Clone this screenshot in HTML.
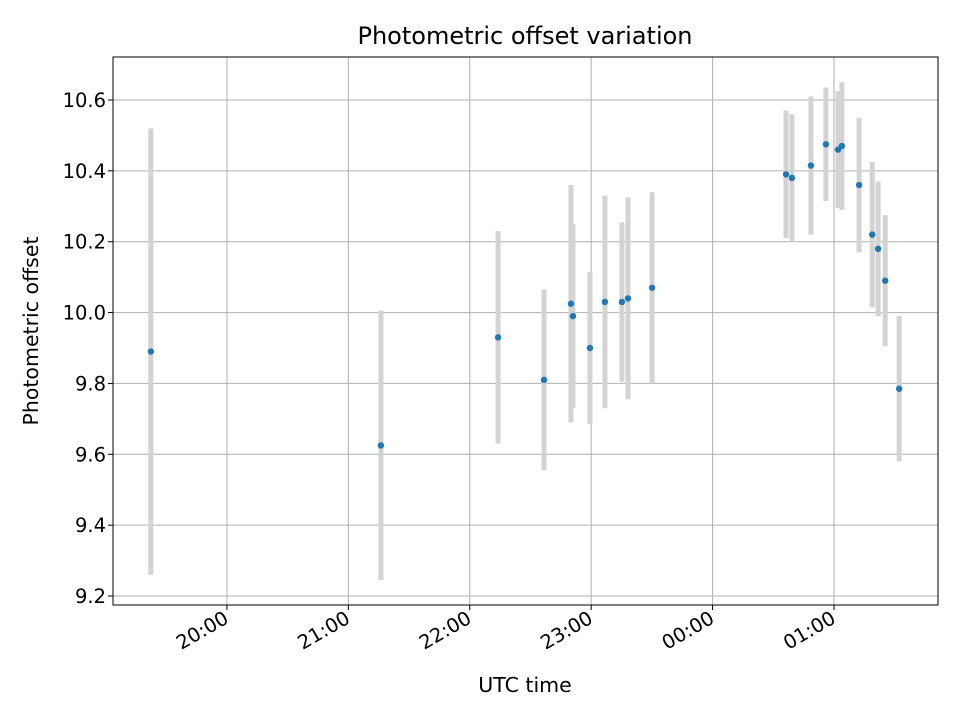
<!DOCTYPE html>
<html><head><meta charset="utf-8"><style>
html,body{margin:0;padding:0;background:#fff;}
svg text{font-family:"DejaVu Sans","Liberation Sans",sans-serif;fill:#000;}
</style></head><body>
<svg id="chart" width="960" height="720" xmlns="http://www.w3.org/2000/svg">
<rect width="960" height="720" fill="#fff"/>
<g id="grid"></g>
<g id="errs"></g>
<g id="pts"></g>
<rect x="113" y="57" width="825" height="548" fill="none" stroke="#000" stroke-width="1"/>
<g id="axes"></g>
<text x="525" y="44" text-anchor="middle" style="font-size:24px">Photometric offset variation</text>
<text x="525" y="692" text-anchor="middle" style="font-size:20.5px">UTC time</text>
<text transform="translate(38,331) rotate(-90)" text-anchor="middle" style="font-size:20.5px">Photometric offset</text>
</svg>
<script>
// minutes since 20:00 UTC
const times = [-37.6,76.1,134,156.7,170,171,179.4,186.8,195.2,198.2,210.1,276.3,279.2,288.6,296,302,303.9,312.4,318.9,321.8,325.3,332.2];
const offsets = [9.89,9.625,9.93,9.81,10.025,9.99,9.90,10.03,10.03,10.04,10.07,10.39,10.38,10.415,10.475,10.46,10.47,10.36,10.22,10.18,10.09,9.785];
const errors = [0.63,0.38,0.30,0.255,0.335,0.26,0.215,0.30,0.225,0.285,0.27,0.18,0.18,0.195,0.16,0.165,0.18,0.19,0.205,0.19,0.185,0.205];
const xTickMinutes = [0,60,120,180,240,300];
const xTickLabels = ["20:00","21:00","22:00","23:00","00:00","01:00"];
const yTicks = [9.2,9.4,9.6,9.8,10.0,10.2,10.4,10.6];

const NS="http://www.w3.org/2000/svg";
const L=113,R=938,T=57,B=605;
const xMin=-56.3,xMax=351.4;
const x=m=>L+(m-xMin)/(xMax-xMin)*(R-L);
const y=v=>596-(v-9.2)/1.4*496;
function mk(tag,attrs,parent){const e=document.createElementNS(NS,tag);for(const k in attrs)e.setAttribute(k,attrs[k]);parent.appendChild(e);return e;}
const grid=document.getElementById('grid'),axes=document.getElementById('axes');
xTickMinutes.forEach((m,i)=>{
  const px=x(m);
  const g=mk('line',{x1:px,x2:px,y1:T,y2:B,stroke:'#b0b0b0','stroke-width':1},grid);
  
  
  const t=mk('line',{x1:px,x2:px,y1:B,y2:B+5,stroke:'#000'},axes);
  
  
  const lb=mk('text',{transform:`translate(${px+3},${B+17}) rotate(-30)`,'text-anchor':'end',style:'font-size:19.5px'},axes);
  lb.textContent=xTickLabels[i];
  
  
});
yTicks.forEach(v=>{
  const py=y(v);
  const g=mk('line',{x1:L,x2:R,y1:py,y2:py,stroke:'#b0b0b0','stroke-width':1},grid);
  
  
  const t=mk('line',{x1:L-5,x2:L,y1:py,y2:py,stroke:'#000'},axes);
  
  
  const lb=mk('text',{x:L-7,y:py+7,'text-anchor':'end',style:'font-size:19.5px'},axes);
  lb.textContent=v.toFixed(1);
  
  
});
const errs=document.getElementById('errs'),pts=document.getElementById('pts');
times.forEach((m,i)=>{
  const px=x(m);
  const e=mk('line',{x1:px,x2:px,y1:y(offsets[i]-errors[i]),y2:y(offsets[i]+errors[i]),stroke:'#d3d3d3','stroke-width':5},errs);
  
  
  const c=mk('circle',{cx:px,cy:y(offsets[i]),r:3.2,fill:'#1f77b4'},pts);
  
  
});
</script>
</body></html>
